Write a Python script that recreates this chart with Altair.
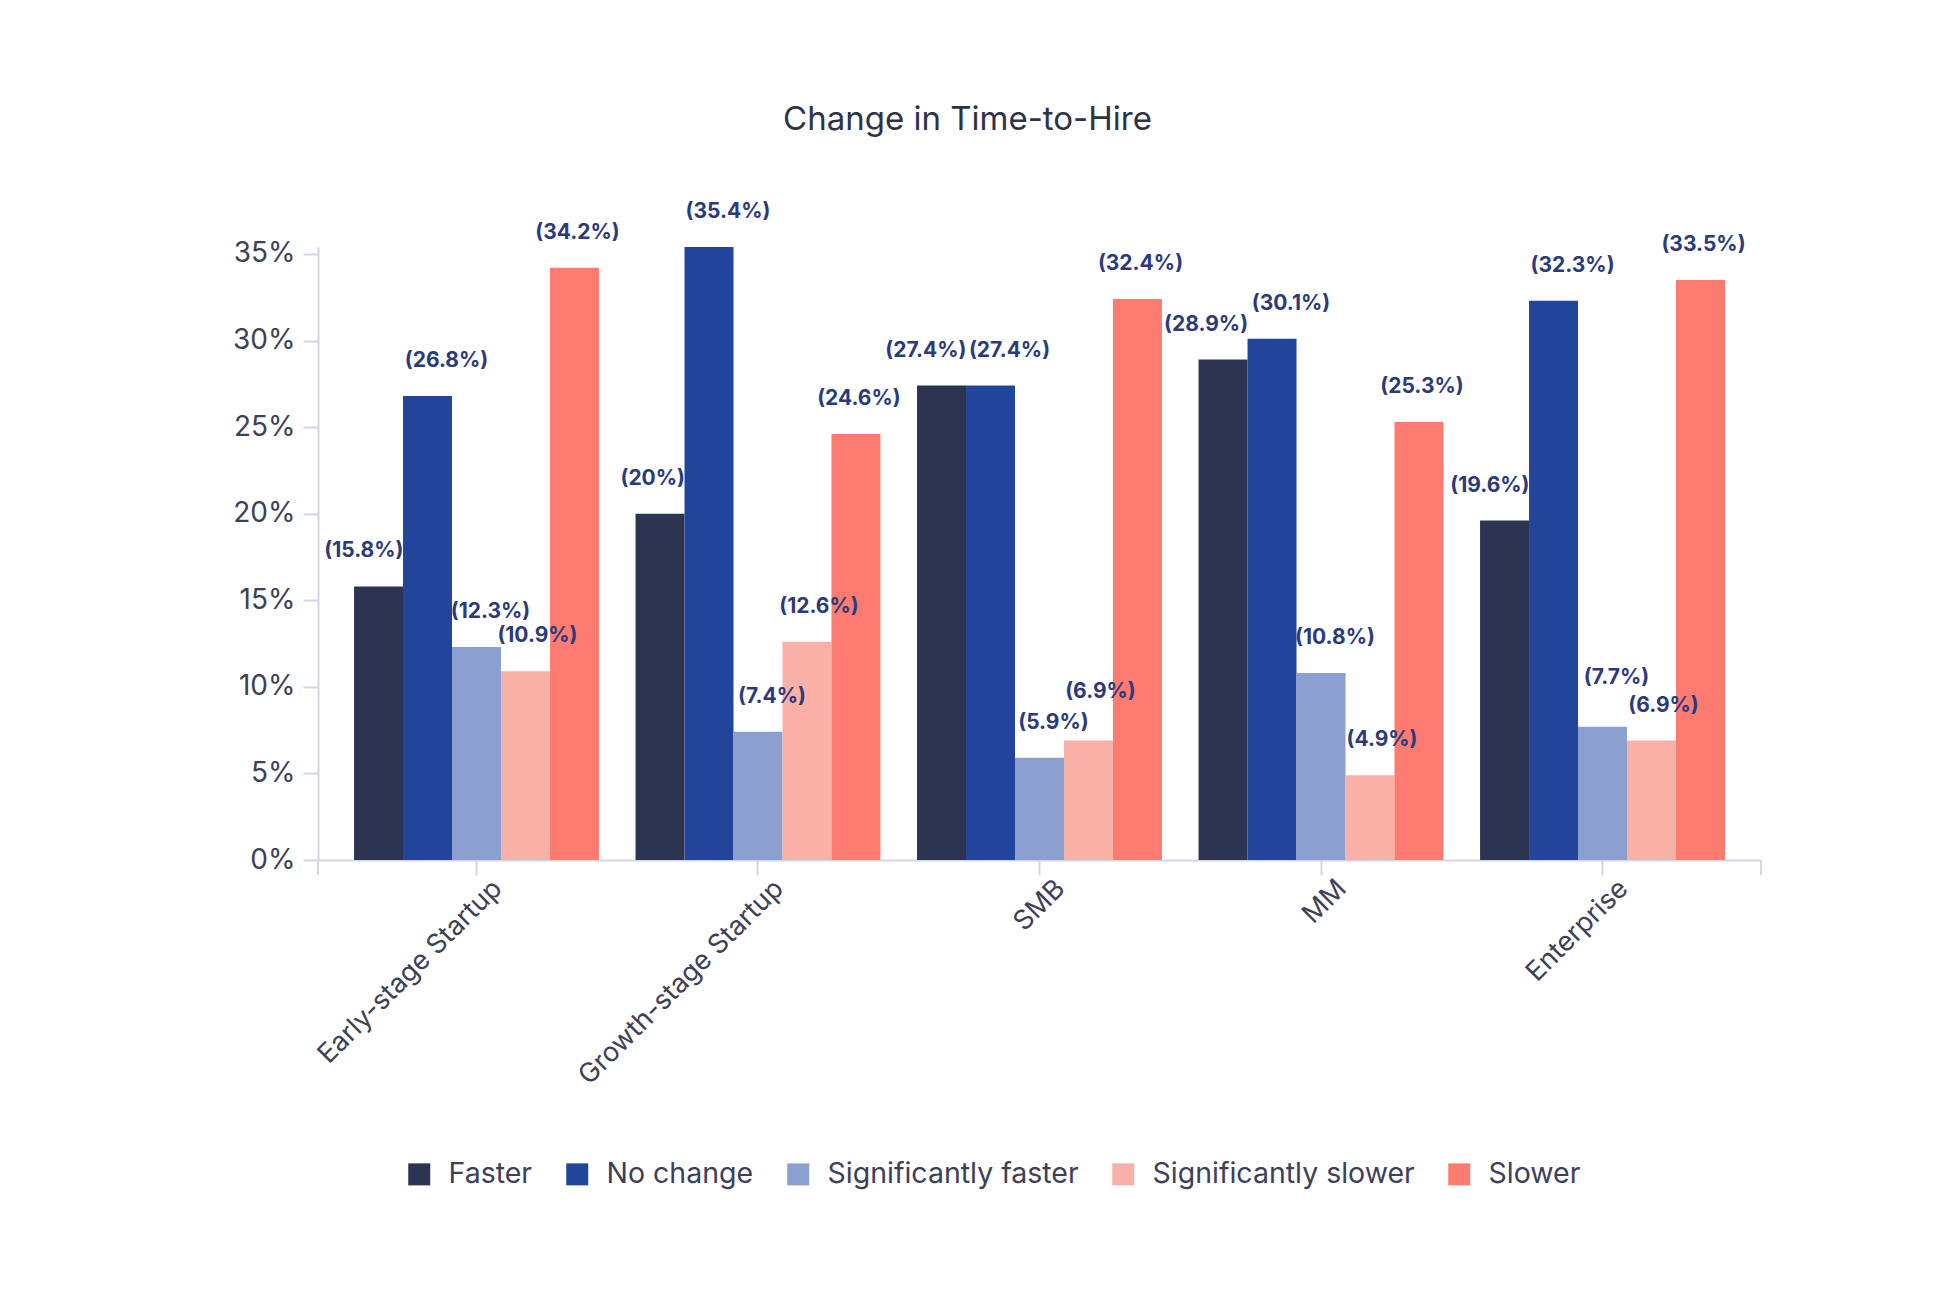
import altair as alt
import pandas as pd

categories = ["Early-stage Startup", "Growth-stage Startup", "SMB", "MM", "Enterprise"]
series = ["Faster", "No change", "Significantly faster", "Significantly slower", "Slower"]
faster = [15.8, 20.0, 27.4, 28.9, 19.6]
no_change = [26.8, 35.4, 27.4, 30.1, 32.3]
sig_faster = [12.3, 7.4, 5.9, 10.8, 7.7]
sig_slower = [10.9, 12.6, 6.9, 4.9, 6.9]
slower = [34.2, 24.6, 32.4, 25.3, 33.5]
y_ticks = [0, 5, 10, 15, 20, 25, 30, 35]

colors = ["#2d3452", "#22449a", "#8b9fd0", "#f9b0a6", "#fd7b70"]

all_vals = [faster, no_change, sig_faster, sig_slower, slower]
rows = []
for name, vals in zip(series, all_vals):
    for c, v in zip(categories, vals):
        rows.append({"category": c, "series": name, "value": v, "label": f"({v:g}%)",
                     "label_pos": v})
df = pd.DataFrame(rows)

# simple label collision rule: of two neighbouring small-bar labels at nearly the same
# height, lift the higher one a little (Faster / No change pair is separated sideways)
for ci, c in enumerate(categories):
    for si in range(2, len(series)):
        a, b = all_vals[si - 1][ci], all_vals[si][ci]
        if abs(a - b) < 1.3:
            hi = series[si - 1] if a >= b else series[si]
            m = (df.category == c) & (df.series == hi)
            df.loc[m, "label_pos"] = df.loc[m, "value"] + 0.8

FONT = "Inter"
AXIS_COL = "#d3d5e8"
TEXT_COL = "#3d4056"
LABEL_COL = "#2b3a7b"
W, H = 1443, 613

x_enc = alt.X(
    "category:N", sort=categories,
    scale=alt.Scale(paddingInner=0.13, paddingOuter=0.128),
    axis=alt.Axis(title=None, labelAngle=-45, labelFontSize=27, labelColor=TEXT_COL,
                  labelFont=FONT, tickSize=15, labelPadding=0, labelOffset=12,
                  labelLimit=0, domainWidth=2, tickWidth=2,
                  domainColor=AXIS_COL, tickColor=AXIS_COL),
)
xo_enc = alt.XOffset("series:N", sort=series, scale=alt.Scale(paddingInner=0, paddingOuter=0))
y_scale = alt.Scale(domain=[0, 35.4], nice=False)
y_enc = alt.Y(
    "value:Q", scale=y_scale,
    axis=alt.Axis(title=None, values=y_ticks, labelExpr="datum.value + '%'", grid=False,
                  labelFontSize=28, labelColor=TEXT_COL, labelFont=FONT, tickSize=15,
                  labelPadding=8, domainWidth=2, tickWidth=2,
                  domainColor=AXIS_COL, tickColor=AXIS_COL),
)

base = alt.Chart(df).encode(x=x_enc, xOffset=xo_enc)

bars = base.mark_bar().encode(
    y=y_enc,
    color=alt.Color("series:N", sort=series,
                    scale=alt.Scale(domain=series, range=colors),
                    legend=alt.Legend(title=None, orient="none", legendX=87, legendY=913,
                                      direction="horizontal", symbolType="square",
                                      symbolSize=484, symbolStrokeWidth=0,
                                      labelFontSize=28.5, labelFont=FONT, labelColor=TEXT_COL,
                                      labelOffset=15, columnPadding=30, labelLimit=600))
)

label_style = {
    "Faster": dict(align="right", dx=25),
    "No change": dict(align="center", dx=19),
    "Significantly faster": dict(align="center", dx=14),
    "Significantly slower": dict(align="center", dx=12),
    "Slower": dict(align="center", dx=3),
}
text_layers = []
for s in series:
    st = label_style[s]
    text_layers.append(
        base.transform_filter(alt.datum.series == s)
        .mark_text(font=FONT, fontSize=21, fontWeight="bold", color=LABEL_COL,
                   baseline="middle", dy=-35, **st)
        .encode(y=alt.Y("label_pos:Q", scale=y_scale), text="label:N")
    )

tick_df = pd.DataFrame({"k": [0]})
end_left = alt.Chart(tick_df).mark_rule(color=AXIS_COL, strokeWidth=2).encode(
    x=alt.value(0), y=alt.value(H), y2=alt.value(H + 15))
end_right = alt.Chart(tick_df).mark_rule(color=AXIS_COL, strokeWidth=2).encode(
    x=alt.value(W), y=alt.value(H), y2=alt.value(H + 15))

chart = alt.layer(bars, *text_layers, end_left, end_right).properties(
    width=W, height=H,
    padding={"left": 310, "top": 239, "right": 174, "bottom": 434},
    autosize=alt.AutoSizeParams(type="none"),
    title=alt.TitleParams("Change in Time-to-Hire", anchor="middle", frame="group",
                          dx=-72, offset=38, baseline="alphabetic",
                          fontSize=33, font=FONT, fontWeight="normal", color="#2e3247"),
    background="white",
).configure_view(stroke=None)

chart.save("out.html", embed_options={"renderer": "svg", "actions": False})
